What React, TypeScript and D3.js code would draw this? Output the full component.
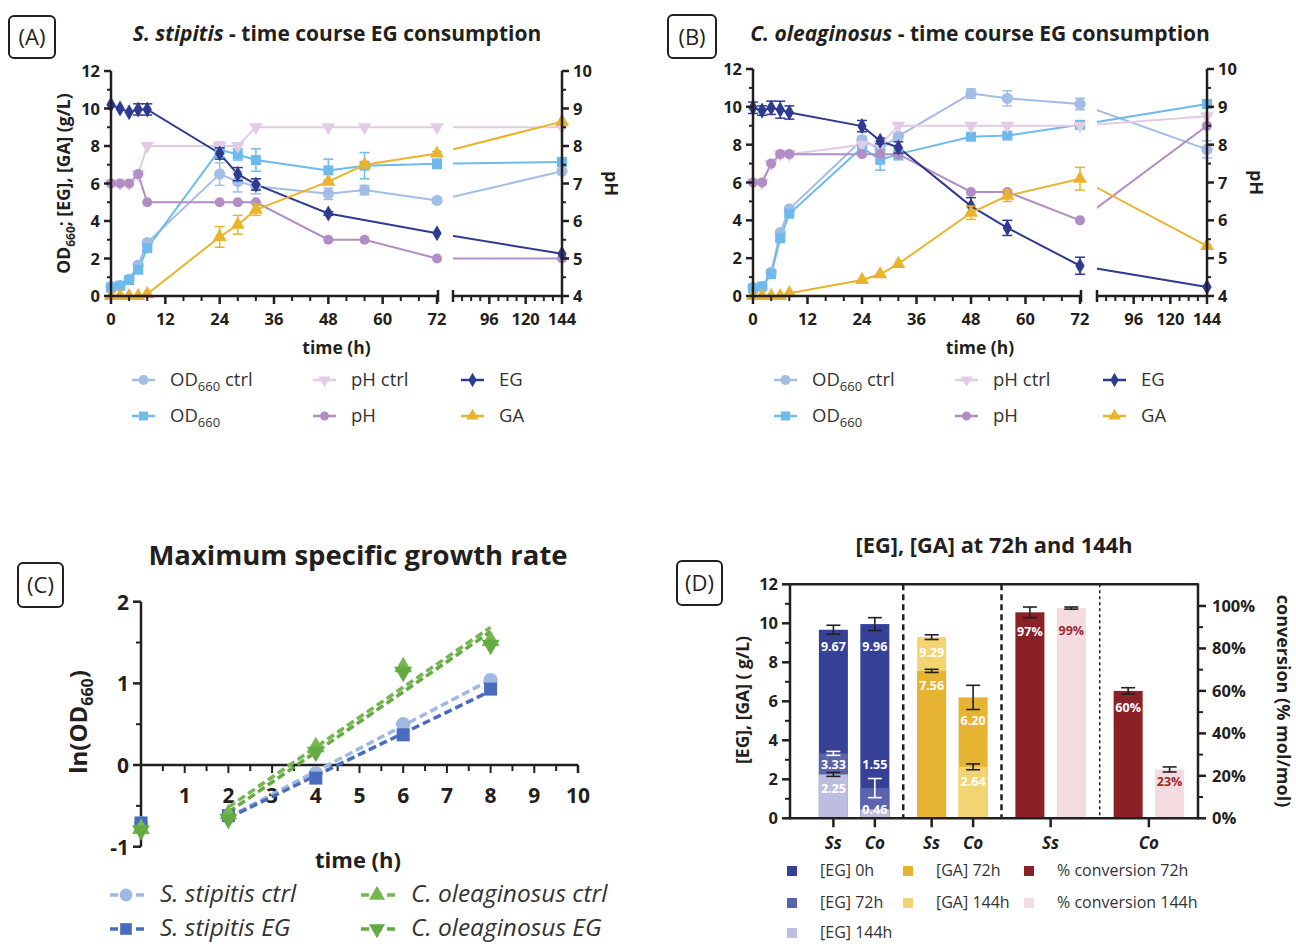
import React from "react";
import * as d3 from "d3";

const FONT = "'Open Sans', Lato, sans-serif";
const AX = "#231f20";

// ---------- Panels A & B: time course ----------
const timeAB = [0, 2, 4, 6, 8, 24, 28, 32, 48, 56, 72, 144];

// S. stipitis
const ssOdCtrl = [0.5, 0.55, 0.9, 1.65, 2.85, 6.5, 6.1, 5.85, 5.45, 5.65, 5.1, 6.65];
const ssOdCtrlErr = [0, 0, 0, 0.1, 0.1, 0.6, 0.55, 0.4, 0.3, 0.25, 0.1, 0];
const ssOd = [0.45, 0.55, 0.85, 1.4, 2.55, 7.8, 7.55, 7.25, 6.7, 6.95, 7.05, 7.15];
const ssOdErr = [0, 0, 0, 0, 0.1, 0.4, 0.3, 0.6, 0.6, 0.7, 0.25, 0];
const ssPhCtrl = [7, 7, 7, 7.25, 8, 8, 8, 8.5, 8.5, 8.5, 8.5, 8.5];
const ssPh = [7, 7, 7, 7.25, 6.5, 6.5, 6.5, 6.5, 5.5, 5.5, 5, 5];
const ssEG = [10.2, 10.0, 9.8, 9.95, 9.95, 7.6, 6.5, 5.95, 4.4, null, 3.35, 2.25];
const ssEGErr = [0, 0, 0, 0.3, 0.3, 0.3, 0.35, 0.3, 0.1, 0, 0, 0];
const ssGA = [0, 0, 0, 0, 0.1, 3.15, 3.8, 4.6, 6.1, 7.0, 7.6, 9.3];
const ssGAErr = [0, 0, 0, 0, 0, 0.55, 0.5, 0.3, 0.1, 0.1, 0.1, 0];

// C. oleaginosus
const coOdCtrl = [0.45, 0.5, 1.25, 3.35, 4.6, 8.25, 7.75, 8.45, 10.7, 10.45, 10.15, 7.75];
const coOdCtrlErr = [0, 0, 0, 0.1, 0.1, 0.2, 0.3, 0.1, 0.25, 0.4, 0.3, 0.45];
const coOd = [0.4, 0.5, 1.15, 3.05, 4.35, 7.85, 7.2, 7.5, 8.42, 8.48, 9.05, 10.15];
const coOdErr = [0, 0, 0, 0.1, 0.1, 0.2, 0.55, 0.3, 0.1, 0.1, 0.1, 0];
const coPhCtrl = [7, 7, 7.5, 7.75, 7.75, 8, 8, 8.5, 8.5, 8.5, 8.5, 8.75];
const coPh = [7, 7, 7.5, 7.75, 7.75, 7.75, 7.75, 7.75, 6.75, 6.75, 6, 8.5];
const coEG = [9.95, 9.8, 9.95, 9.85, 9.7, 8.98, 8.2, 7.85, 4.75, 3.6, 1.6, 0.48];
const coEGErr = [0.3, 0.25, 0.35, 0.45, 0.35, 0.3, 0.15, 0.3, 0.45, 0.4, 0.45, 0];
const coGA = [0, 0, 0, 0, 0.15, 0.85, 1.15, 1.7, 4.4, 5.3, 6.2, 2.65];
const coGAErr = [0, 0, 0, 0, 0, 0, 0, 0, 0.35, 0.3, 0.6, 0];

const xMajor1 = [0, 12, 24, 36, 48, 60, 72];
const xMajor2 = [96, 120, 144];
const xMinor2 = [78, 84, 90, 102, 108, 114, 126, 132, 138];
const yTicksL = [0, 2, 4, 6, 8, 10, 12];
const yTicksPh = [4, 5, 6, 7, 8, 9, 10];

const COL = {
  odc: "#a2bde6",
  od: "#6dbaec",
  phc: "#e2cbe4",
  ph: "#b18dc6",
  eg: "#2f3b90",
  ga: "#e9b42c",
};

// ---------- Panel C ----------
const timeC = [0, 2, 4, 6, 8];
const lnSsCtrl = [-0.71, -0.63, -0.1, 0.5, 1.04];
const lnSsEG = [-0.71, -0.62, -0.16, 0.37, 0.93];
const lnCoCtrl = [-0.78, -0.6, 0.22, 1.2, 1.52];
const lnCoEG = [-0.8, -0.66, 0.16, 1.14, 1.47];
const xTicksC = [1, 2, 3, 4, 5, 6, 7, 8, 9, 10];
const yTicksC = [-1, 0, 1, 2];

// ---------- Panel D ----------
const egSs = [9.67, 3.33, 2.25]; // 0h, 72h, 144h
const egSsErr = [0.23, 0.1, 0.1];
const egCo = [9.96, 1.55, 0.46];
const egCoErr = [0.33, 0.49, 0];
const gaSs = [7.56, 9.29]; // 72h, 144h
const gaSsErr = [0.08, 0.12];
const gaCo = [6.2, 2.64];
const gaCoErr = [0.62, 0.15];
const convSs = [97, 99]; // 72h, 144h
const convSsErr = [2.5, 0.5];
const convCo = [60, 23];
const convCoErr = [1.5, 1.2];
const yTicksD = [0, 2, 4, 6, 8, 10, 12];
const pctTicksD = [0, 20, 40, 60, 80, 100];

const DCOL = {
  eg0: "#374097",
  eg72: "#5c63ad",
  eg144: "#bdbddf",
  ga72: "#e6b332",
  ga144: "#f2d572",
  cv72: "#8a2127",
  cv144: "#f4dbdf",
};

function sym(type, size) {
  return d3.symbol().type(type).size(size)() || "";
}

function PanelLabel({ x, y, w, h, text }) {
  return (
    <g>
      <rect x={x} y={y} width={w} height={h} rx={5} fill="none" stroke={AX} strokeWidth={2} />
      <text x={x + w / 2} y={y + h / 2 + 8} textAnchor="middle" fontSize={22} fontFamily={FONT} fill={AX}>
        {text}
      </text>
    </g>
  );
}

function TimeCourse({ p }) {
  const { id, x0, xb1, xb2, x1, yTop, yBot, series, titleItalic, titleRest, titleX, yLabel, lx } = p;
  const xs1 = d3.scaleLinear().domain([0, 72]).range([x0, xb1]);
  const xs2 = d3.scaleLinear().domain([72, 144]).range([xb2, x1]);
  const xt = (t) => (t <= 72 ? xs1(t) : xs2(t));
  const yL = d3.scaleLinear().domain([0, 12]).range([yBot, yTop]);
  const yR = d3.scaleLinear().domain([4, 10]).range([yBot, yTop]);

  const minor1 = d3.range(0, 73, 4).filter((t) => t % 12 !== 0);
  const minorL = d3.range(1, 12, 2);
  const minorR = d3.range(4.5, 10, 1);

  return (
    <g>
      <defs>
        <clipPath id={id}>
          <rect x={x0 - 20} y={0} width={xb1 - x0 + 20} height={400} />
          <rect x={xb2} y={0} width={x1 - xb2 + 20} height={400} />
        </clipPath>
      </defs>
      {/* title */}
      <text x={titleX} y={41} textAnchor="middle" fontSize={21} fontWeight="bold" fontFamily={FONT} fill={AX}>
        <tspan fontStyle="italic">{titleItalic}</tspan>
        <tspan>{titleRest}</tspan>
      </text>
      {/* series lines */}
      {series.map((s) => {
        const sc = s.axis === "L" ? yL : yR;
        const pts = timeAB.map((t, i) => [t, s.values[i]]).filter((d) => d[1] != null);
        const line = d3.line().x((d) => xt(d[0])).y((d) => sc(d[1]));
        return (
          <path key={s.key} d={line(pts)} fill="none" stroke={s.color} strokeWidth={2} clipPath={`url(#${id})`} />
        );
      })}
      {/* error bars and markers */}
      {series.map((s) => {
        const sc = s.axis === "L" ? yL : yR;
        return (
          <g key={s.key + "m"}>
            {timeAB.map((t, i) => {
              const v = s.values[i];
              if (v == null) return null;
              const e = s.err ? s.err[i] : 0;
              const cx = xt(t);
              return (
                <g key={i}>
                  {e > 0 && (
                    <g stroke={s.color} strokeWidth={1.5}>
                      <line x1={cx} x2={cx} y1={sc(v - e)} y2={sc(v + e)} />
                      <line x1={cx - 5} x2={cx + 5} y1={sc(v - e)} y2={sc(v - e)} />
                      <line x1={cx - 5} x2={cx + 5} y1={sc(v + e)} y2={sc(v + e)} />
                    </g>
                  )}
                  <path
                    d={sym(s.sym, s.size)}
                    transform={`translate(${cx},${sc(v)}) rotate(${s.rot || 0})`}
                    fill={s.color}
                  />
                </g>
              );
            })}
          </g>
        );
      })}
      {/* axes */}
      <g stroke={AX} strokeWidth={2.5} fill="none">
        <line x1={x0} x2={x0} y1={yBot + 1} y2={yTop} />
        <line x1={x1} x2={x1} y1={yBot + 1} y2={yTop} />
        <line x1={x0} x2={xb1 + 1} y1={yBot} y2={yBot} />
        <line x1={xb2} x2={x1} y1={yBot} y2={yBot} />
        <line x1={xb1 + 1} x2={xb1 + 1} y1={yBot - 6} y2={yBot + 6} />
        <line x1={xb2} x2={xb2} y1={yBot - 6} y2={yBot + 6} />
        {yTicksL.map((v) => (
          <line key={"yl" + v} x1={x0 - 7} x2={x0} y1={yL(v)} y2={yL(v)} />
        ))}
        {minorL.map((v) => (
          <line key={"yml" + v} x1={x0 - 4} x2={x0} y1={yL(v)} y2={yL(v)} strokeWidth={2} />
        ))}
        {yTicksPh.map((v) => (
          <line key={"yr" + v} x1={x1} x2={x1 + 7} y1={yR(v)} y2={yR(v)} />
        ))}
        {minorR.map((v) => (
          <line key={"ymr" + v} x1={x1} x2={x1 + 4} y1={yR(v)} y2={yR(v)} strokeWidth={2} />
        ))}
        {xMajor1.map((t) => (
          <line key={"x1" + t} x1={xs1(t)} x2={xs1(t)} y1={yBot} y2={yBot + 8} />
        ))}
        {minor1.map((t) => (
          <line key={"xm1" + t} x1={xs1(t)} x2={xs1(t)} y1={yBot} y2={yBot + 5} strokeWidth={2} />
        ))}
        {xMajor2.map((t) => (
          <line key={"x2" + t} x1={xs2(t)} x2={xs2(t)} y1={yBot} y2={yBot + 8} />
        ))}
        {xMinor2.map((t) => (
          <line key={"xm2" + t} x1={xs2(t)} x2={xs2(t)} y1={yBot} y2={yBot + 5} strokeWidth={2} />
        ))}
      </g>
      <g fontFamily={FONT} fontWeight="bold" fontSize={16.5} fill={AX}>
        {yTicksL.map((v) => (
          <text key={"tl" + v} x={x0 - 11} y={yL(v) + 6} textAnchor="end">
            {v}
          </text>
        ))}
        {yTicksPh.map((v) => (
          <text key={"tr" + v} x={x1 + 11} y={yR(v) + 6} textAnchor="start">
            {v}
          </text>
        ))}
        {xMajor1.map((t) => (
          <text key={"tx1" + t} x={xs1(t)} y={yBot + 29} textAnchor="middle">
            {t}
          </text>
        ))}
        {xMajor2.map((t) => (
          <text key={"tx2" + t} x={xs2(t)} y={yBot + 29} textAnchor="middle">
            {t}
          </text>
        ))}
        <text x={(x0 + x1) / 2} y={yBot + 58} textAnchor="middle" fontSize={17.5}>
          time (h)
        </text>
        <text
          transform={`translate(${x1 + 43},${(yTop + yBot) / 2}) rotate(90)`}
          textAnchor="middle"
          fontSize={18}
        >
          pH
        </text>
        {yLabel && (
          <text transform={`translate(${x0 - 41},${(yTop + yBot) / 2}) rotate(-90)`} textAnchor="middle" fontSize={17.5}>
            <tspan>OD</tspan>
            <tspan fontSize={12} dy={5}>
              660
            </tspan>
            <tspan dy={-5}>; [EG], [GA] (g/L)</tspan>
          </text>
        )}
      </g>
      {/* legend */}
      {series.map((s, i) => {
        const col = Math.floor(i / 2);
        const row = i % 2;
        const lxp = lx + [0, 181, 329][col];
        const ly = [380, 416][row];
        return (
          <g key={"lg" + s.key}>
            <line x1={lxp} x2={lxp + 23} y1={ly} y2={ly} stroke={s.color} strokeWidth={2.5} />
            <path d={sym(s.sym, s.size * 0.8)} transform={`translate(${lxp + 11.5},${ly}) rotate(${s.rot || 0})`} fill={s.color} />
            <text x={lxp + 38} y={ly + 6} fontFamily={FONT} fontSize={18.5} fill="#333">
              {s.leg.map((part, k) =>
                part.sub ? (
                  <tspan key={k} fontSize={13} dy={5}>
                    {part.t}
                  </tspan>
                ) : (
                  <tspan key={k} dy={k > 0 && s.leg[k - 1].sub ? -5 : 0}>
                    {part.t}
                  </tspan>
                )
              )}
            </text>
          </g>
        );
      })}
    </g>
  );
}

function makeSeries(odc, odcE, od, odE, phc, ph, eg, egE, ga, gaE) {
  return [
    { key: "odc", values: odc, err: odcE, color: COL.odc, sym: d3.symbolCircle, size: 100, axis: "L", leg: [{ t: "OD" }, { t: "660", sub: true }, { t: " ctrl" }] },
    { key: "od", values: od, err: odE, color: COL.od, sym: d3.symbolSquare, size: 100, axis: "L", leg: [{ t: "OD" }, { t: "660", sub: true }] },
    { key: "phc", values: phc, err: null, color: COL.phc, sym: d3.symbolTriangle, size: 80, rot: 180, axis: "R", leg: [{ t: "pH ctrl" }] },
    { key: "ph", values: ph, err: null, color: COL.ph, sym: d3.symbolCircle, size: 80, axis: "R", leg: [{ t: "pH" }] },
    { key: "eg", values: eg, err: egE, color: COL.eg, sym: d3.symbolDiamond, size: 75, axis: "L", leg: [{ t: "EG" }] },
    { key: "ga", values: ga, err: gaE, color: COL.ga, sym: d3.symbolTriangle, size: 85, axis: "L", leg: [{ t: "GA" }] },
  ];
}

function GrowthPanel() {
  const x = d3.scaleLinear().domain([0, 10]).range([141, 578]);
  const y = d3.scaleLinear().domain([-1, 2]).range([846.7, 601.7]);
  const series = [
    { key: "ssc", v: lnSsCtrl, color: "#9fb9e4", sym: d3.symbolCircle, size: 160, label: "S. stipitis ctrl" },
    { key: "sse", v: lnSsEG, color: "#4a6cbf", sym: d3.symbolSquare, size: 170, label: "S. stipitis EG" },
    { key: "coc", v: lnCoCtrl, color: "#76b653", sym: d3.symbolTriangle, size: 140, label: "C. oleaginosus ctrl" },
    { key: "coe", v: lnCoEG, color: "#64ab43", sym: d3.symbolTriangle, size: 140, rot: 180, label: "C. oleaginosus EG" },
  ];
  const fits = series.map((s) => {
    const pts = timeC.map((t, i) => [t, s.v[i]]).filter((d) => d[0] >= 2);
    const mx = d3.mean(pts, (d) => d[0]);
    const my = d3.mean(pts, (d) => d[1]);
    const slope = d3.sum(pts, (d) => (d[0] - mx) * (d[1] - my)) / d3.sum(pts, (d) => (d[0] - mx) ** 2);
    return { s, a: my - slope * mx, b: slope };
  });
  const minorX = d3.range(0.5, 10, 0.5);
  const minorY = [-0.5, 0.5, 1.5];
  return (
    <g>
      <text x={358} y={565} textAnchor="middle" fontFamily={FONT} fontWeight="bold" fontSize={27.5} fill={AX}>
        Maximum specific growth rate
      </text>
      <g stroke={AX} strokeWidth={2.5}>
        <line x1={x(0)} x2={x(0)} y1={y(-1)} y2={y(2)} />
        <line x1={x(0)} x2={x(10)} y1={y(0)} y2={y(0)} />
        {minorX.map((t) => (
          <line key={t} x1={x(t)} x2={x(t)} y1={y(0)} y2={y(0) + (t % 1 === 0 ? 8 : 6)} strokeWidth={2} />
        ))}
        <line x1={x(10)} x2={x(10)} y1={y(0)} y2={y(0) + 8} />
        {yTicksC.map((v) => (
          <line key={"y" + v} x1={x(0) - 8} x2={x(0)} y1={y(v)} y2={y(v)} />
        ))}
        {minorY.map((v) => (
          <line key={"ym" + v} x1={x(0) - 5} x2={x(0)} y1={y(v)} y2={y(v)} strokeWidth={2} />
        ))}
      </g>
      <g fontFamily={FONT} fontWeight="bold" fontSize={21} fill={AX}>
        {xTicksC.map((t) => (
          <text key={t} x={x(t)} y={y(0) + 38} textAnchor="middle">
            {t}
          </text>
        ))}
        {yTicksC.map((v) => (
          <text key={"l" + v} x={x(0) - 12} y={y(v) + 8} textAnchor="end">
            {v}
          </text>
        ))}
        <text x={358} y={868} textAnchor="middle" fontSize={22}>
          time (h)
        </text>
        <text transform={`translate(87,722) rotate(-90)`} textAnchor="middle" fontSize={24}>
          <tspan>ln(OD</tspan>
          <tspan fontSize={16} dy={6}>
            660
          </tspan>
          <tspan dy={-6}>)</tspan>
        </text>
      </g>
      {fits.map(({ s, a, b }) => (
        <line
          key={"f" + s.key}
          x1={x(2)}
          x2={x(8)}
          y1={y(a + b * 2)}
          y2={y(a + b * 8)}
          stroke={s.color}
          strokeWidth={3.5}
          strokeDasharray="8,4"
        />
      ))}
      {series.map((s) => (
        <g key={s.key}>
          {timeC.map((t, i) => (
            <path key={i} d={sym(s.sym, s.size)} transform={`translate(${x(t)},${y(s.v[i])}) rotate(${s.rot || 0})`} fill={s.color} />
          ))}
        </g>
      ))}
      {series.map((s, i) => {
        const lxp = i < 2 ? 110 : 361;
        const ly = i % 2 === 0 ? 895 : 929;
        return (
          <g key={"lg" + s.key}>
            <line x1={lxp} x2={lxp + 34} y1={ly} y2={ly} stroke={s.color} strokeWidth={3.5} strokeDasharray="8,5" />
            <path d={sym(s.sym, s.size * 0.8)} transform={`translate(${lxp + 16},${ly}) rotate(${s.rot || 0})`} fill={s.color} />
            <text x={lxp + 50} y={ly + 7} fontFamily={FONT} fontStyle="italic" fontSize={24.5} fill="#333">
              {s.label}
            </text>
          </g>
        );
      })}
    </g>
  );
}

function BarPanel() {
  const yBot = 818.3;
  const yTop = 584.3;
  const xL = 790;
  const xR = 1198;
  const y = d3.scaleLinear().domain([0, 12]).range([yBot, yTop]);
  const yP = d3.scaleLinear().domain([0, 110.2]).range([yBot, yTop]);
  const outer = d3.scaleBand().domain(["EG", "GA", "cvSs", "cvCo"]).range([805, xR]).padding(0);
  const inner = d3.scaleBand().domain(["a", "b"]).range([0, outer.bandwidth()]).paddingInner(0.3).paddingOuter(0.335);
  const bw = inner.bandwidth();
  const cx = (g, s) => outer(g) + inner(s) + bw / 2;

  const bars = [
    { g: "EG", s: "a", v: egSs[0], e: egSsErr[0], c: DCOL.eg0, sc: y, ec: AX, lc: "#fff", dy: 16 },
    { g: "EG", s: "a", v: egSs[1], e: egSsErr[1], c: DCOL.eg72, sc: y, ec: "#fff", lc: "#fff", dy: 11 },
    { g: "EG", s: "a", v: egSs[2], e: egSsErr[2], c: DCOL.eg144, sc: y, ec: AX, lc: "#fff", dy: 14 },
    { g: "EG", s: "b", v: egCo[0], e: egCoErr[0], c: DCOL.eg0, sc: y, ec: AX, lc: "#fff", dy: 22 },
    { g: "EG", s: "b", v: egCo[1], e: egCoErr[1], c: DCOL.eg72, sc: y, ec: "#fff", lc: "#fff", dy: -24 },
    { g: "EG", s: "b", v: egCo[2], e: egCoErr[2], c: DCOL.eg144, sc: y, ec: AX, lc: "#fff", dy: 0 },
    { g: "GA", s: "a", v: gaSs[1], e: gaSsErr[1], c: DCOL.ga144, sc: y, ec: AX, lc: "#fff", dy: 15 },
    { g: "GA", s: "a", v: gaSs[0], e: gaSsErr[0], c: DCOL.ga72, sc: y, ec: AX, lc: "#fff", dy: 14 },
    { g: "GA", s: "b", v: gaCo[0], e: gaCoErr[0], c: DCOL.ga72, sc: y, ec: AX, lc: "#fff", dy: 23 },
    { g: "GA", s: "b", v: gaCo[1], e: gaCoErr[1], c: DCOL.ga144, sc: y, ec: AX, lc: "#fff", dy: 14 },
    { g: "cvSs", s: "a", v: convSs[0], e: convSsErr[0], c: DCOL.cv72, sc: yP, ec: AX, lc: "#fff", dy: 19, pct: true },
    { g: "cvSs", s: "b", v: convSs[1], e: convSsErr[1], c: DCOL.cv144, sc: yP, ec: AX, lc: "#9c2a30", dy: 22, pct: true },
    { g: "cvCo", s: "a", v: convCo[0], e: convCoErr[0], c: DCOL.cv72, sc: yP, ec: AX, lc: "#fff", dy: 16, pct: true },
    { g: "cvCo", s: "b", v: convCo[1], e: convCoErr[1], c: DCOL.cv144, sc: yP, ec: AX, lc: "#9c2a30", dy: 12, pct: true },
  ];

  const xTicks = [
    { x: cx("EG", "a"), t: "Ss" },
    { x: cx("EG", "b"), t: "Co" },
    { x: cx("GA", "a"), t: "Ss" },
    { x: cx("GA", "b"), t: "Co" },
    { x: outer("cvSs") + outer.bandwidth() / 2, t: "Ss" },
    { x: outer("cvCo") + outer.bandwidth() / 2, t: "Co" },
  ];

  const legend = [
    { c: DCOL.eg0, t: "[EG] 0h", col: 0, row: 0 },
    { c: DCOL.eg72, t: "[EG] 72h", col: 0, row: 1 },
    { c: DCOL.eg144, t: "[EG] 144h", col: 0, row: 2 },
    { c: DCOL.ga72, t: "[GA] 72h", col: 1, row: 0 },
    { c: DCOL.ga144, t: "[GA] 144h", col: 1, row: 1 },
    { c: DCOL.cv72, t: "% conversion 72h", col: 2, row: 0 },
    { c: DCOL.cv144, t: "% conversion 144h", col: 2, row: 1 },
  ];
  const lgX = [787, 903, 1024];
  const lgY = [871, 903, 933];

  return (
    <g>
      <text x={994} y={553} textAnchor="middle" fontFamily={FONT} fontWeight="bold" fontSize={21.8} fill={AX}>
        [EG], [GA] at 72h and 144h
      </text>
      {bars.map((b, i) => (
        <rect key={"b" + i} x={cx(b.g, b.s) - bw / 2} y={b.sc(b.v)} width={bw} height={yBot - b.sc(b.v)} fill={b.c} />
      ))}
      {bars.map((b, i) =>
        b.e > 0 ? (
          <g key={"e" + i} stroke={b.ec} strokeWidth={1.6}>
            <line x1={cx(b.g, b.s)} x2={cx(b.g, b.s)} y1={b.sc(b.v - b.e)} y2={b.sc(b.v + b.e)} />
            <line x1={cx(b.g, b.s) - 7} x2={cx(b.g, b.s) + 7} y1={b.sc(b.v - b.e)} y2={b.sc(b.v - b.e)} />
            <line x1={cx(b.g, b.s) - 7} x2={cx(b.g, b.s) + 7} y1={b.sc(b.v + b.e)} y2={b.sc(b.v + b.e)} />
          </g>
        ) : null
      )}
      {bars.map((b, i) => (
        <text
          key={"l" + i}
          x={cx(b.g, b.s)}
          y={b.sc(b.v) + b.dy + 5}
          textAnchor="middle"
          fontFamily={FONT}
          fontWeight="bold"
          fontSize={12.5}
          fill={b.lc}
        >
          {b.pct ? `${b.v}%` : b.v.toFixed(2)}
        </text>
      ))}
      {/* separators */}
      <g stroke={AX}>
        <line x1={outer("GA")} x2={outer("GA")} y1={yTop} y2={yBot} strokeWidth={2.5} strokeDasharray="6,4" />
        <line x1={outer("cvSs")} x2={outer("cvSs")} y1={yTop} y2={yBot} strokeWidth={2.5} strokeDasharray="6,4" />
        <line x1={outer("cvCo")} x2={outer("cvCo")} y1={yTop} y2={yBot} strokeWidth={1.5} strokeDasharray="3,3" />
      </g>
      {/* axes */}
      <g stroke={AX} strokeWidth={2.5}>
        <line x1={xL} x2={xR} y1={yTop} y2={yTop} />
        <line x1={xL} x2={xR} y1={yBot} y2={yBot} />
        <line x1={xL} x2={xL} y1={yTop - 1} y2={yBot + 1} />
        <line x1={xR} x2={xR} y1={yTop - 1} y2={yBot + 1} />
        {yTicksD.map((v) => (
          <line key={"yt" + v} x1={xL - 8} x2={xL} y1={y(v)} y2={y(v)} />
        ))}
        {d3.range(1, 12, 2).map((v) => (
          <line key={"ym" + v} x1={xL - 5} x2={xL} y1={y(v)} y2={y(v)} strokeWidth={2} />
        ))}
        {pctTicksD.map((v) => (
          <line key={"pt" + v} x1={xR} x2={xR + 8} y1={yP(v)} y2={yP(v)} />
        ))}
        {d3.range(10, 110, 20).map((v) => (
          <line key={"pm" + v} x1={xR} x2={xR + 5} y1={yP(v)} y2={yP(v)} strokeWidth={2} />
        ))}
        {xTicks.map((t, i) => (
          <line key={"xt" + i} x1={t.x} x2={t.x} y1={yBot} y2={yBot + 9} />
        ))}
      </g>
      <g fontFamily={FONT} fontWeight="bold" fontSize={16.5} fill={AX}>
        {yTicksD.map((v) => (
          <text key={"ytl" + v} x={xL - 12} y={y(v) + 6} textAnchor="end">
            {v}
          </text>
        ))}
        {pctTicksD.map((v) => (
          <text key={"ptl" + v} x={xR + 14} y={yP(v) + 6} textAnchor="start">
            {v}%
          </text>
        ))}
        {xTicks.map((t, i) => (
          <text key={"xtl" + i} x={t.x} y={yBot + 31} textAnchor="middle" fontStyle="italic" fontSize={17}>
            {t.t}
          </text>
        ))}
        <text transform={`translate(749,700) rotate(-90)`} textAnchor="middle" fontSize={17.5}>
          [EG], [GA] ( g/L)
        </text>
        <text transform={`translate(1277,701) rotate(90)`} textAnchor="middle" fontSize={18}>
          conversion (% mol/mol)
        </text>
      </g>
      {legend.map((l, i) => (
        <g key={"lg" + i}>
          <rect x={lgX[l.col]} y={lgY[l.row] - 5} width={10} height={10} fill={l.c} />
          <text x={lgX[l.col] + 33} y={lgY[l.row] + 5} fontFamily={FONT} fontSize={16} fill="#333">
            {l.t}
          </text>
        </g>
      ))}
    </g>
  );
}

export default function App() {
  const pA = {
    id: "clipA",
    x0: 111,
    xb1: 437,
    xb2: 453,
    x1: 562,
    yTop: 71,
    yBot: 296,
    series: makeSeries(ssOdCtrl, ssOdCtrlErr, ssOd, ssOdErr, ssPhCtrl, ssPh, ssEG, ssEGErr, ssGA, ssGAErr),
    titleItalic: "S. stipitis",
    titleRest: " - time course EG consumption",
    titleX: 337,
    yLabel: true,
    lx: 132,
  };
  const pB = {
    id: "clipB",
    x0: 753,
    xb1: 1080,
    xb2: 1097,
    x1: 1207,
    yTop: 69,
    yBot: 296,
    series: makeSeries(coOdCtrl, coOdCtrlErr, coOd, coOdErr, coPhCtrl, coPh, coEG, coEGErr, coGA, coGAErr),
    titleItalic: "C. oleaginosus",
    titleRest: " - time course EG consumption",
    titleX: 980,
    yLabel: false,
    lx: 774,
  };
  return (
    <svg width={1296} height={944} style={{ position: "absolute", left: 0, top: 0, background: "#fff" }}>
      <rect width={1296} height={944} fill="#fff" />
      <PanelLabel x={9} y={16} w={46} h={42} text="(A)" />
      <PanelLabel x={668} y={15} w={48} h={43} text="(B)" />
      <PanelLabel x={18} y={563} w={45} h={44} text="(C)" />
      <PanelLabel x={677} y={561} w={45} h={44} text="(D)" />
      <TimeCourse p={pA} />
      <TimeCourse p={pB} />
      <GrowthPanel />
      <BarPanel />
    </svg>
  );
}
